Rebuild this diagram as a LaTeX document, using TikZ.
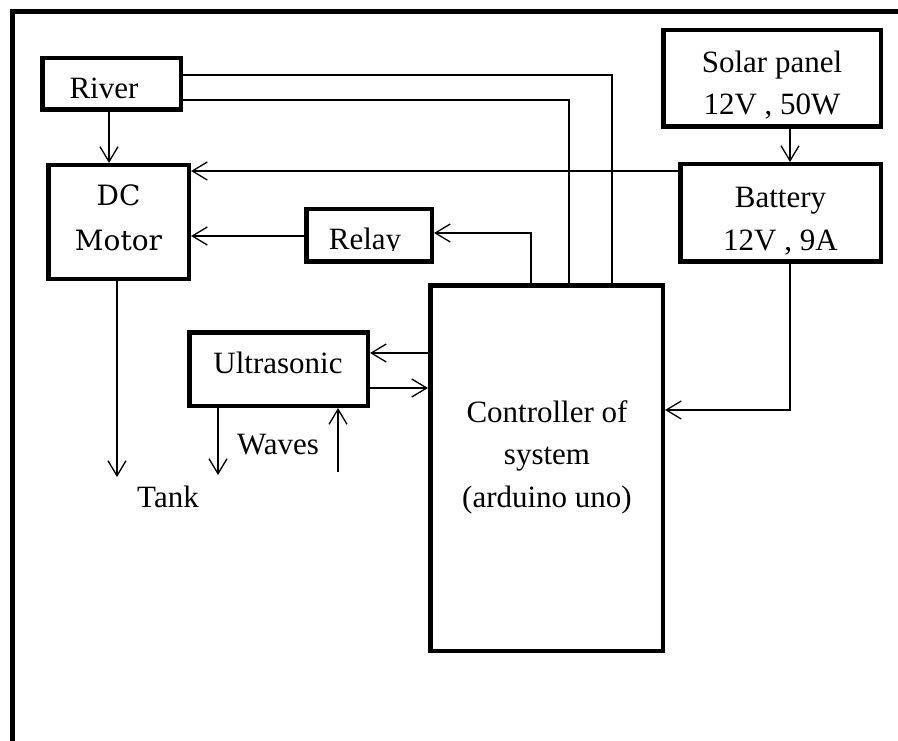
\documentclass[tikz,border=0pt]{standalone}
\usepackage{fontspec}
\setmainfont{Liberation Serif}
\newfontfamily\dcfont{DejaVu Serif}
\usetikzlibrary{arrows.meta}
\begin{document}
\begin{tikzpicture}[x=1pt,y=-1pt,
  box/.style={draw, line width=4.5pt, rectangle, inner sep=0pt},
  wire/.style={line width=1.3pt},
  arr/.style={wire, -{Straight Barb[length=15pt,width=18pt,line width=1.3pt]}},
  lbl/.style={inner sep=0pt, align=center, font=\fontsize{31}{42}\selectfont}]
\useasboundingbox (0,0) rectangle (898,741);
\fill[white] (0,0) rectangle (898,741);
% frame
\draw[line width=5pt] (12,741) -- (12,11.5) -- (898,11.5);
% boxes
\node[box, minimum width=138.5pt, minimum height=51.5pt] (river) at (111.5,84) {};
\node[lbl] (rivertxt) at (104,88) {River};
\node[box, minimum width=140.5pt, minimum height=113.5pt] (motor) at (118.5,222) {};
\node[lbl, font=\dcfont\fontsize{28}{45}\selectfont] (motortxt) at (118.5,218) {DC\\Motor};
\node[box, minimum width=125.5pt, minimum height=52.5pt] (relay) at (369,235.5) {};
\begin{scope}
  \clip (304,207) rectangle (434,251);
  \node[lbl, anchor=base] (relaytxt) at (365,250) {Relay};
\end{scope}
\node[box, minimum width=217.5pt, minimum height=96.5pt] (solar) at (772,78.5) {};
\node[lbl, font=\fontsize{31}{41.5}\selectfont] (solartxt) at (772,85) {Solar panel\\12V , 50W};
\node[box, minimum width=200.5pt, minimum height=97.5pt] (battery) at (780.5,213) {};
\node[lbl, font=\fontsize{31}{43}\selectfont] (batterytxt) at (780.5,221) {Battery\\12V , 9A};
\node[box, minimum width=232.5pt, minimum height=365.5pt] (ctrl) at (546.5,468) {};
\node[lbl, font=\fontsize{31}{42.5}\selectfont] (ctrltext) at (547,457) {Controller of\\system\\(arduino uno)};
\node[box, minimum width=178.5pt, minimum height=73.5pt] (ultra) at (278.5,369) {};
\node[lbl] (ultratxt) at (278,363) {Ultrasonic};
\node[lbl] (waves) at (278,445) {Waves};
\node[lbl] (tank) at (168,497) {Tank};
\coordinate (tankend) at (117,477);
\coordinate (waveout) at (218,475);
\coordinate (wavein) at (338,472);
% connectors
\draw[wire] (river.east |- 0,75) -| (612,0 |- ctrl.north);
\draw[wire] (river.east |- 0,100) -| (569,0 |- ctrl.north);
\draw[arr] (109,0 |- river.south) -- (109,0 |- motor.north);
\draw[arr] (battery.west |- 0,171) -- (motor.east |- 0,171);
\draw[arr] (531,0 |- ctrl.north) |- (relay.east |- 0,233);
\draw[arr] (relay.west |- 0,236) -- (motor.east |- 0,236);
\draw[arr] (790,0 |- solar.south) -- (790,0 |- battery.north);
\draw[arr] (790,0 |- battery.south) |- (ctrl.east |- 0,410);
\draw[arr] (ctrl.west |- 0,353) -- (ultra.east |- 0,353);
\draw[arr] (ultra.east |- 0,388) -- (ctrl.west |- 0,388);
\draw[arr] (218,0 |- ultra.south) -- (waveout);
\draw[arr] (wavein) -- (338,0 |- ultra.south);
\draw[arr] (117,0 |- motor.south) -- (tankend);
\end{tikzpicture}
\end{document}
